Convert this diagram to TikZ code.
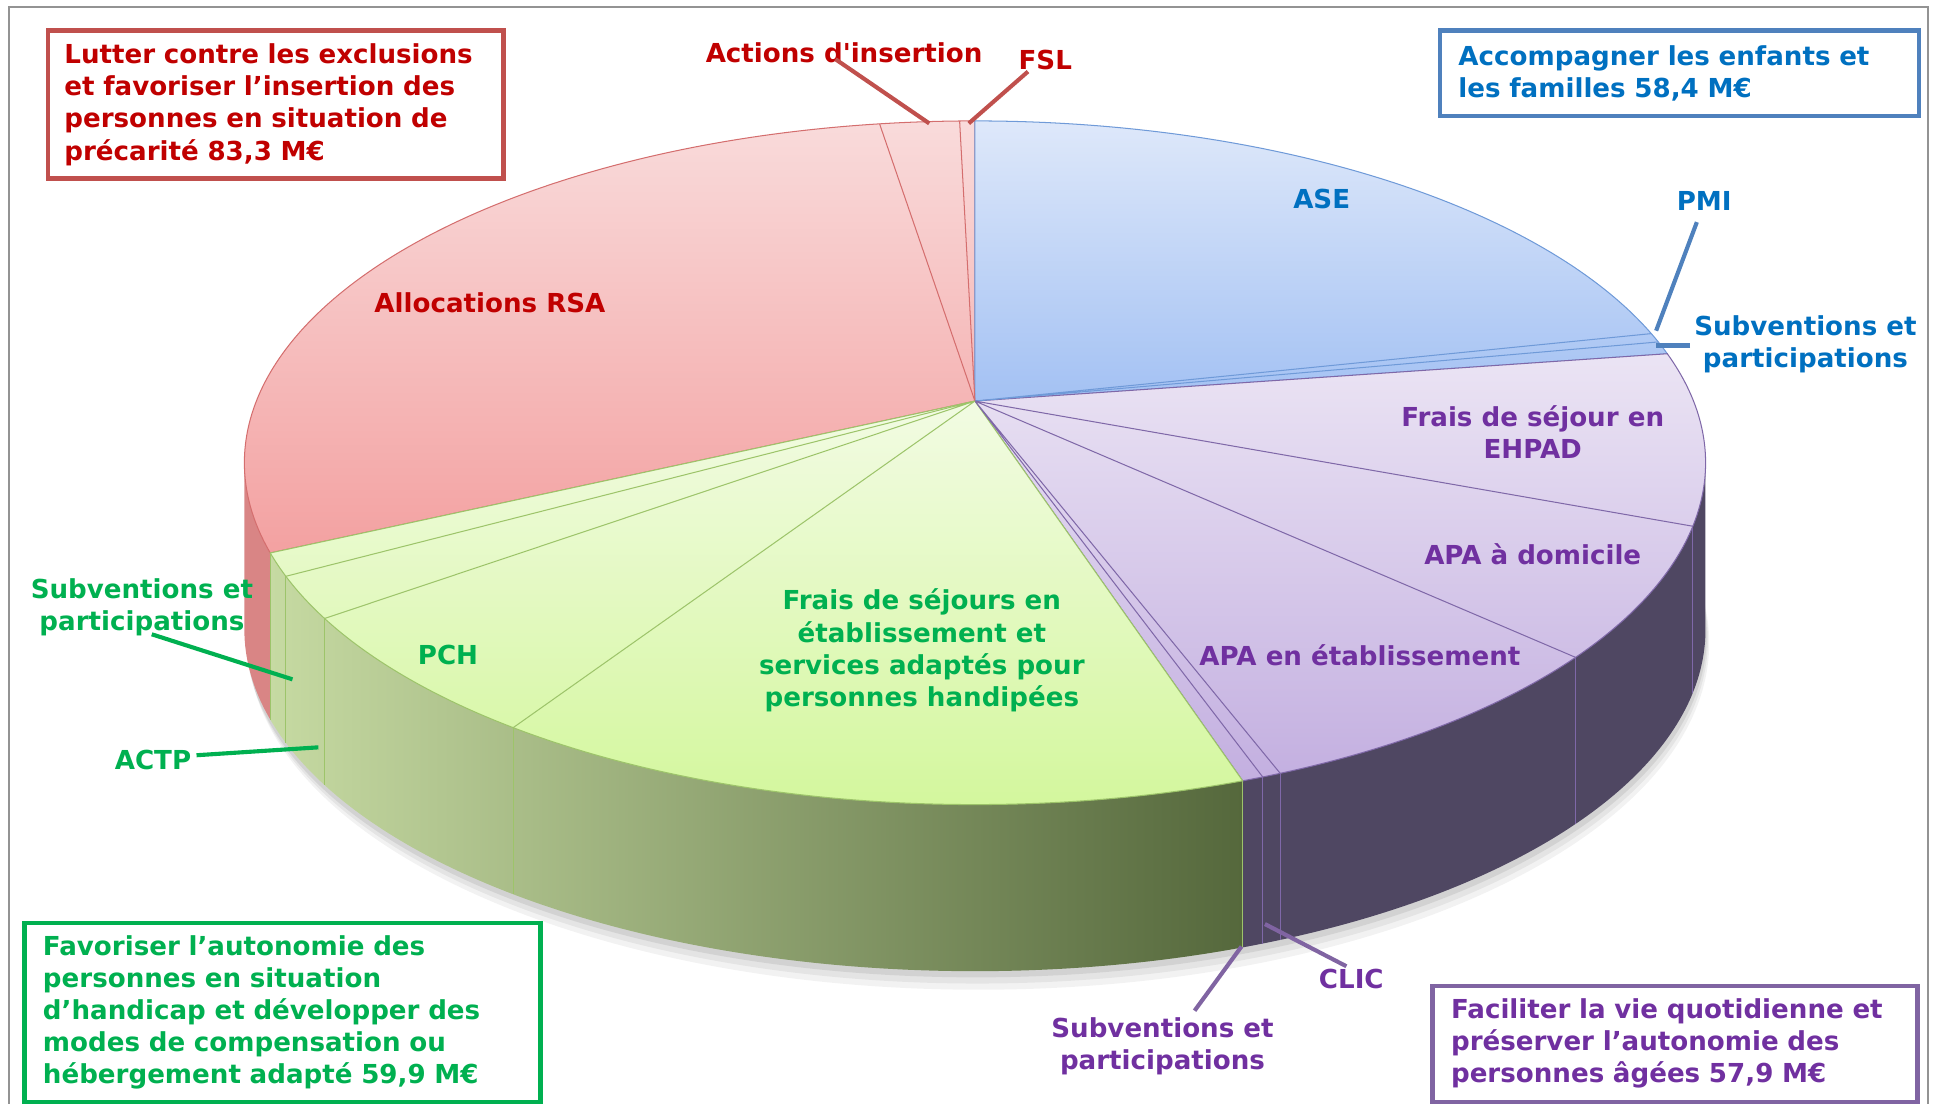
\documentclass[tikz,border=0pt]{standalone}
\usepackage{fontspec}
\newfontfamily\verd{DejaVu Sans}
\usetikzlibrary{calc}

\definecolor{txtred}{HTML}{C00000}
\definecolor{txtblue}{HTML}{0070C0}
\definecolor{txtgreen}{HTML}{00B050}
\definecolor{txtpurple}{HTML}{7030A0}
\definecolor{boxred}{HTML}{C0504D}
\definecolor{boxblue}{HTML}{4F81BD}
\definecolor{boxgreen}{HTML}{00B050}
\definecolor{boxpurple}{HTML}{8064A2}
\definecolor{redA}{HTML}{F9DBDB}
\definecolor{redB}{HTML}{F3A1A1}
\definecolor{redline}{HTML}{D46E6E}
\definecolor{blueA}{HTML}{DEE8FA}
\definecolor{blueB}{HTML}{A3C1F3}
\definecolor{blueline}{HTML}{6F9AD8}
\definecolor{purpleA}{HTML}{EBE4F4}
\definecolor{purpleB}{HTML}{C3AFE0}
\definecolor{purpleline}{HTML}{7F68A8}
\definecolor{greenA}{HTML}{F2FBE3}
\definecolor{greenB}{HTML}{D3F79C}
\definecolor{greenline}{HTML}{9DC46A}
\definecolor{sidered}{HTML}{D98585}
\definecolor{sidegreenL}{HTML}{C6DAA2}
\definecolor{sidegreenM}{HTML}{9CB679}
\definecolor{sidegreenR}{HTML}{55683C}
\definecolor{sidepurple}{HTML}{4F4762}

\begin{document}
\begin{tikzpicture}[x=0.6pt,y=0.6pt,
    lab/.style={font=\verd\bfseries\fontsize{12.7pt}{15.6pt}\selectfont,align=center,inner sep=0pt},
    goal box/.style={lab,draw,line width=2.2pt,align=left,anchor=north west,inner xsep=9pt,inner ysep=0pt},
    leader/.style={line width=2pt},
    rim/.style={x radius=592,y radius=277},
    cut/.style={line width=0.5pt}]
\useasboundingbox (0,0) rectangle (1568,894);
\draw[gray!85,line width=1pt] (7,-10) |- (1562,888) -- (1562,-10);

\coordinate (C) at (790,519);   % centre of the upper rim
\coordinate (A) at (790,569);   % apex of the slices
\coordinate (B) at (790,384);   % centre of the lower rim

% shadow
\fill[black,opacity=0.05] ([shift={(3,-11)}]B) ellipse [x radius=592,y radius=281];
\fill[black,opacity=0.06] ([shift={(2,-8)}]B) ellipse [x radius=592,y radius=279];
\fill[black,opacity=0.08] ([shift={(1,-5)}]B) ellipse [x radius=592,y radius=277];

% sides
\fill[sidered] ($(C)+(180:592 and 277)$) arc[rim,start angle=180,end angle=195.3] -- ++(0,-135) arc[rim,start angle=195.3,end angle=180] -- cycle;
\shade[left color=sidegreenL,middle color=sidegreenM,right color=sidegreenR] ($(C)+(195.3:592 and 277)$) arc[rim,start angle=195.3,end angle=291.5] -- ++(0,-135) arc[rim,start angle=291.5,end angle=195.3] -- cycle;
\fill[sidepurple] ($(C)+(291.5:592 and 277)$) arc[rim,start angle=291.5,end angle=360] -- ++(0,-135) arc[rim,start angle=360,end angle=291.5] -- cycle;
\draw[cut,greenline] ($(C)+(195.3:592 and 277)$) -- ++(0,-135) ($(C)+(199.4:592 and 277)$) -- ++(0,-135)
    ($(C)+(207.1:592 and 277)$) -- ++(0,-135) ($(C)+(230.8:592 and 277)$) -- ++(0,-135) ($(C)+(291.5:592 and 277)$) -- ++(0,-135);
\draw[cut,purpleline] ($(C)+(293.2:592 and 277)$) -- ++(0,-135) ($(C)+(294.7:592 and 277)$) -- ++(0,-135)
    ($(C)+(325.3:592 and 277)$) -- ++(0,-135) ($(C)+(349.3:592 and 277)$) -- ++(0,-135);

% top face
\shadedraw[cut,draw=redline,top color=redA,bottom color=redB] (A) -- ($(C)+(90:592 and 277)$) arc[rim,start angle=90,end angle=195.3] -- cycle;
\shadedraw[cut,draw=blueline,top color=blueA,bottom color=blueB] (A) -- ($(C)+(18.6:592 and 277)$) arc[rim,start angle=18.6,end angle=90] -- cycle;
\shadedraw[cut,draw=purpleline,top color=purpleA,bottom color=purpleB] (A) -- ($(C)+(-68.5:592 and 277)$) arc[rim,start angle=-68.5,end angle=18.6] -- cycle;
\shadedraw[cut,draw=greenline,top color=greenA,bottom color=greenB] (A) -- ($(C)+(-164.7:592 and 277)$) arc[rim,start angle=-164.7,end angle=-68.5] -- cycle;
\draw[cut,redline] (A) -- ($(C)+(91.2:592 and 277)$) (A) -- ($(C)+(97.5:592 and 277)$);
\draw[cut,blueline] (A) -- ($(C)+(20.7:592 and 277)$) (A) -- ($(C)+(22.2:592 and 277)$);
\draw[cut,purpleline] (A) -- ($(C)+(-10.7:592 and 277)$) (A) -- ($(C)+(-34.7:592 and 277)$)
    (A) -- ($(C)+(-65.3:592 and 277)$) (A) -- ($(C)+(-66.8:592 and 277)$);
\draw[cut,greenline] (A) -- ($(C)+(-129.2:592 and 277)$) (A) -- ($(C)+(-152.9:592 and 277)$) (A) -- ($(C)+(-160.6:592 and 277)$);

% goal boxes
\node[goal box,draw=boxred,text=txtred,inner xsep=8pt,text width=205.4pt,minimum height=72pt] (rsagoal) at (37,871)
    {Lutter contre les exclusions\\et favoriser l’insertion des\\personnes en situation de\\précarité 83,3 M€};
\node[goal box,draw=boxblue,text=txtblue,text width=214.8pt,minimum height=41.4pt] (asegoal) at (1165,871)
    {Accompagner les enfants et\\les familles 58,4 M€};
\node[goal box,draw=boxgreen,text=txtgreen,text width=232.8pt,minimum height=87pt] (handigoal) at (18,148)
    {Favoriser l’autonomie des\\personnes en situation\\d’handicap et développer des\\modes de compensation ou\\hébergement adapté 59,9 M€};
\node[goal box,draw=boxpurple,text=txtpurple,text width=217.8pt,minimum height=56.4pt] (pagoal) at (1159,97)
    {Faciliter la vie quotidienne et\\préserver l’autonomie des\\personnes âgées 57,9 M€};

% slice labels
\node[lab,text=txtred] (actions) at (684,851) {Actions d'insertion};
\node[lab,text=txtred] (fsl) at (847,845) {FSL};
\node[lab,text=txtred] (rsa) at (397,649) {Allocations RSA};
\node[lab,text=txtblue] (ase) at (1071,733) {ASE};
\node[lab,text=txtblue] (pmi) at (1381,731) {PMI};
\node[lab,text=txtblue] (subvb) at (1463,615) {Subventions et\\participations};
\node[lab,text=txtpurple] (ehpad) at (1242,544) {Frais de séjour en\\EHPAD};
\node[lab,text=txtpurple] (apadom) at (1242,445) {APA à domicile};
\node[lab,text=txtpurple] (apaetab) at (1102,363) {APA en établissement};
\node[lab,text=txtpurple] (subvp) at (942,46) {Subventions et\\participations};
\node[lab,text=txtpurple] (clic) at (1095,101) {CLIC};
\node[lab,text=txtgreen] (frais) at (747,367) {Frais de séjours en\\établissement et\\services adaptés pour\\personnes handipées};
\node[lab,text=txtgreen] (pch) at (363,363) {PCH};
\node[lab,text=txtgreen] (subvg) at (115,402) {Subventions et\\participations};
\node[lab,text=txtgreen] (actp) at (124,278) {ACTP};

% leaders
\coordinate (actfoot) at (753,794);
\coordinate (fslfoot) at (785,794);
\coordinate (pmifoot) at (1342,626);
\coordinate (subvbfoot) at (1342,614);
\coordinate (subvgfoot) at (237,343.5);
\coordinate (actpfoot) at (258,288.4);
\coordinate (subvpfoot) at (1006,127);
\coordinate (clicfoot) at (1025,145.2);
\draw[leader,boxred] ([shift={(-7,-5)}]actions.center) -- (actfoot);
\draw[leader,boxred] ([shift={(-14,-9)}]fsl.center) -- (fslfoot);
\draw[leader,boxblue] ([shift={(-6,-17)}]pmi.center) -- (pmifoot);
\draw[leader,boxblue] ([shift={(-3,-1)}]subvb.west) -- (subvbfoot);
\draw[leader,boxgreen] ([shift={(8,-22)}]subvg.center) -- (subvgfoot);
\draw[leader,boxgreen] ([shift={(4,4)}]actp.east) -- (actpfoot);
\draw[leader,boxpurple] ([shift={(26,29)}]subvp.center) -- (subvpfoot);
\draw[leader,boxpurple] ([shift={(-4,10)}]clic.center) -- (clicfoot);
\end{tikzpicture}
\end{document}
